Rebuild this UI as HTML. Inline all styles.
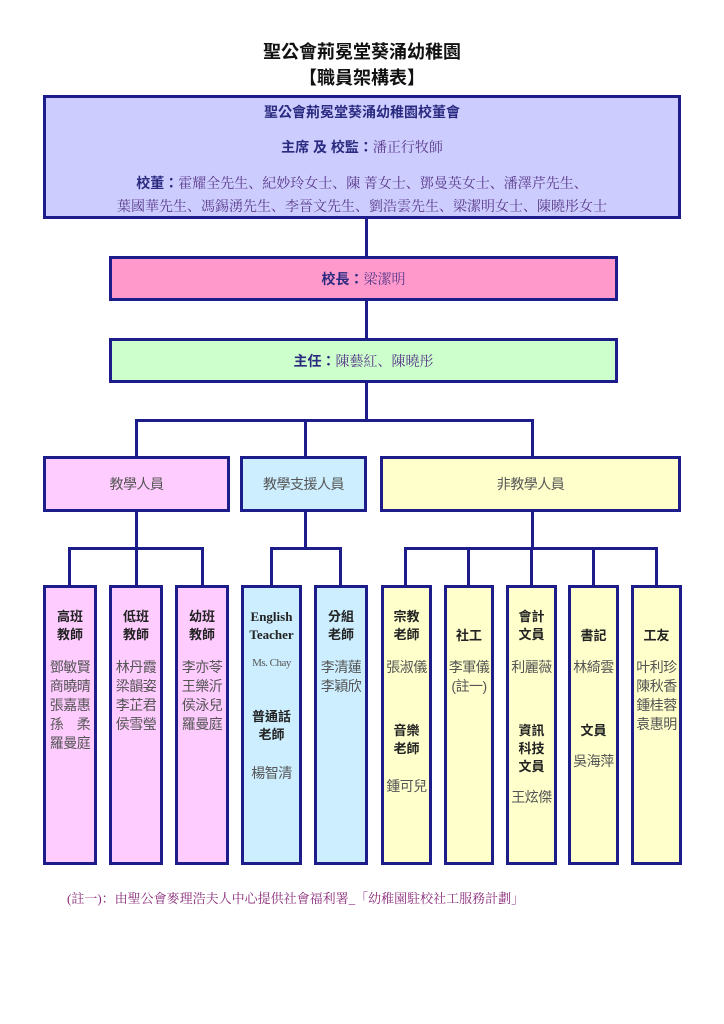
<!DOCTYPE html>
<html><head><meta charset="utf-8">
<style>
body{margin:0;width:724px;height:1024px;background:#fff;position:relative;overflow:hidden;font-family:"Liberation Serif","Noto Serif CJK SC","Noto Sans CJK TC",serif;}
.b{position:absolute;box-sizing:border-box;border:3px solid #1c1c8a;}
.l{position:absolute;background:#1c1c8a;}
.t{position:absolute;left:0;right:0;text-align:center;white-space:nowrap;}
.h{font-family:"Liberation Sans","Noto Sans CJK TC",sans-serif;font-weight:bold;color:#222;font-size:13px;line-height:18px;}
.n{font-family:"Liberation Sans","Noto Sans CJK TC",sans-serif;color:#555;font-size:14px;line-height:19px;letter-spacing:-0.5px;}
.col{background:#ffccff;}
.sup{background:#cceeff;}
.non{background:#ffffcc;}
.nv{color:#2a2a80;font-weight:bold;font-family:"Liberation Sans","Noto Sans CJK TC",sans-serif;}
.pv{color:#5a3a8a;}
</style></head><body>
<div class="t" style="top:38px;font-size:18px;font-weight:bold;font-family:'Liberation Sans','Noto Sans CJK TC',sans-serif;color:#111">聖公會荊冕堂葵涌幼稚園</div>
<div class="t" style="top:64px;font-size:18px;font-weight:bold;font-family:'Liberation Sans','Noto Sans CJK TC',sans-serif;color:#111">【職員架構表】</div>

<div class="b" style="left:43px;top:95px;width:638px;height:124px;background:#ccccff;">
 <div class="t nv" style="top:4px;font-size:14px;">聖公會荊冕堂葵涌幼稚園校董會</div>
 <div class="t" style="top:39px;font-size:14px;"><span class="nv">主席 及 校監：</span><span class="pv">潘正行牧師</span></div>
 <div class="t" style="top:75px;font-size:14px;"><span class="nv">校董：</span><span class="pv">霍耀全先生、紀妙玲女士、陳 菁女士、鄧曼英女士、潘澤芹先生、</span></div>
 <div class="t pv" style="top:98px;font-size:14px;">葉國華先生、馮錫湧先生、李晉文先生、劉浩雲先生、梁潔明女士、陳曉彤女士</div>
</div>
<div class="l" style="left:365px;top:218px;width:3px;height:39px"></div>
<div class="b" style="left:109px;top:256px;width:509px;height:45px;background:#ff99cc;">
 <div class="t" style="top:10px;font-size:14px;"><span class="nv">校長：</span><span class="pv">梁潔明</span></div>
</div>
<div class="l" style="left:365px;top:300px;width:3px;height:39px"></div>
<div class="b" style="left:109px;top:338px;width:509px;height:45px;background:#ccffcc;">
 <div class="t" style="top:10px;font-size:14px;"><span class="nv">主任：</span><span class="pv">陳藝紅、陳曉彤</span></div>
</div>
<div class="l" style="left:365px;top:382px;width:3px;height:39px"></div>
<div class="l" style="left:135px;top:419px;width:399px;height:3px"></div>
<div class="l" style="left:135px;top:419px;width:3px;height:38px"></div>
<div class="l" style="left:304px;top:419px;width:3px;height:38px"></div>
<div class="l" style="left:531px;top:419px;width:3px;height:38px"></div>

<div class="b col" style="left:43px;top:456px;width:187px;height:56px"><div class="t n" style="top:16px;font-size:14px">教學人員</div></div>
<div class="b sup" style="left:240px;top:456px;width:127px;height:56px"><div class="t n" style="top:16px;font-size:14px">教學支援人員</div></div>
<div class="b non" style="left:380px;top:456px;width:301px;height:56px"><div class="t n" style="top:16px;font-size:14px">非教學人員</div></div>

<div class="l" style="left:135px;top:511px;width:3px;height:38px"></div>
<div class="l" style="left:304px;top:511px;width:3px;height:38px"></div>
<div class="l" style="left:531px;top:511px;width:3px;height:38px"></div>
<div class="l" style="left:68px;top:547px;width:136px;height:3px"></div>
<div class="l" style="left:270px;top:547px;width:72px;height:3px"></div>
<div class="l" style="left:404px;top:547px;width:254px;height:3px"></div>
<div class="l" style="left:68px;top:547px;width:3px;height:39px"></div>
<div class="l" style="left:135px;top:547px;width:3px;height:39px"></div>
<div class="l" style="left:201px;top:547px;width:3px;height:39px"></div>
<div class="l" style="left:270px;top:547px;width:3px;height:39px"></div>
<div class="l" style="left:339px;top:547px;width:3px;height:39px"></div>
<div class="l" style="left:404px;top:547px;width:3px;height:39px"></div>
<div class="l" style="left:467px;top:547px;width:3px;height:39px"></div>
<div class="l" style="left:530px;top:547px;width:3px;height:39px"></div>
<div class="l" style="left:592px;top:547px;width:3px;height:39px"></div>
<div class="l" style="left:655px;top:547px;width:3px;height:39px"></div>

<div class="b col" style="left:43px;top:585px;width:54px;height:280px">
 <div class="t h" style="top:20px">高班<br>教師</div>
 <div class="t n" style="top:70px">鄧敏賢<br>商曉晴<br>張嘉惠<br>孫　柔<br>羅曼庭</div></div>
<div class="b col" style="left:109px;top:585px;width:54px;height:280px">
 <div class="t h" style="top:20px">低班<br>教師</div>
 <div class="t n" style="top:70px">林丹霞<br>梁韻姿<br>李芷君<br>侯雪瑩</div></div>
<div class="b col" style="left:175px;top:585px;width:54px;height:280px">
 <div class="t h" style="top:20px">幼班<br>教師</div>
 <div class="t n" style="top:70px">李亦苓<br>王樂沂<br>侯泳兒<br>羅曼庭</div></div>
<div class="b sup" style="left:241px;top:585px;width:61px;height:280px">
 <div class="t h" style="top:20px;font-family:'Liberation Serif',serif">English<br>Teacher</div>
 <div class="t n" style="top:66px;font-size:11px;font-family:'Liberation Serif',serif">Ms. Chay</div>
 <div class="t h" style="top:120px">普通話<br>老師</div>
 <div class="t n" style="top:176px">楊智清</div></div>
<div class="b sup" style="left:314px;top:585px;width:54px;height:280px">
 <div class="t h" style="top:20px">分組<br>老師</div>
 <div class="t n" style="top:70px">李清蓮<br>李穎欣</div></div>
<div class="b non" style="left:381px;top:585px;width:51px;height:280px">
 <div class="t h" style="top:20px">宗教<br>老師</div>
 <div class="t n" style="top:70px">張淑儀</div>
 <div class="t h" style="top:134px">音樂<br>老師</div>
 <div class="t n" style="top:189px">鍾可兒</div></div>
<div class="b non" style="left:444px;top:585px;width:50px;height:280px">
 <div class="t h" style="top:39px">社工</div>
 <div class="t n" style="top:70px">李軍儀<br>(註一)</div></div>
<div class="b non" style="left:506px;top:585px;width:51px;height:280px">
 <div class="t h" style="top:20px">會計<br>文員</div>
 <div class="t n" style="top:70px">利麗薇</div>
 <div class="t h" style="top:134px">資訊<br>科技<br>文員</div>
 <div class="t n" style="top:200px">王炫傑</div></div>
<div class="b non" style="left:568px;top:585px;width:51px;height:280px">
 <div class="t h" style="top:39px">書記</div>
 <div class="t n" style="top:70px">林綺雲</div>
 <div class="t h" style="top:134px">文員</div>
 <div class="t n" style="top:164px">吳海萍</div></div>
<div class="b non" style="left:631px;top:585px;width:51px;height:280px">
 <div class="t h" style="top:39px">工友</div>
 <div class="t n" style="top:70px">叶利珍<br>陳秋香<br>鍾桂蓉<br>袁惠明</div></div>

<div style="position:absolute;left:67px;top:888px;font-size:13px;color:#8a2a7a;white-space:nowrap;">(註一)：由聖公會麥理浩夫人中心提供社會福利署_「幼稚園駐校社工服務計劃」</div>
</body></html>
